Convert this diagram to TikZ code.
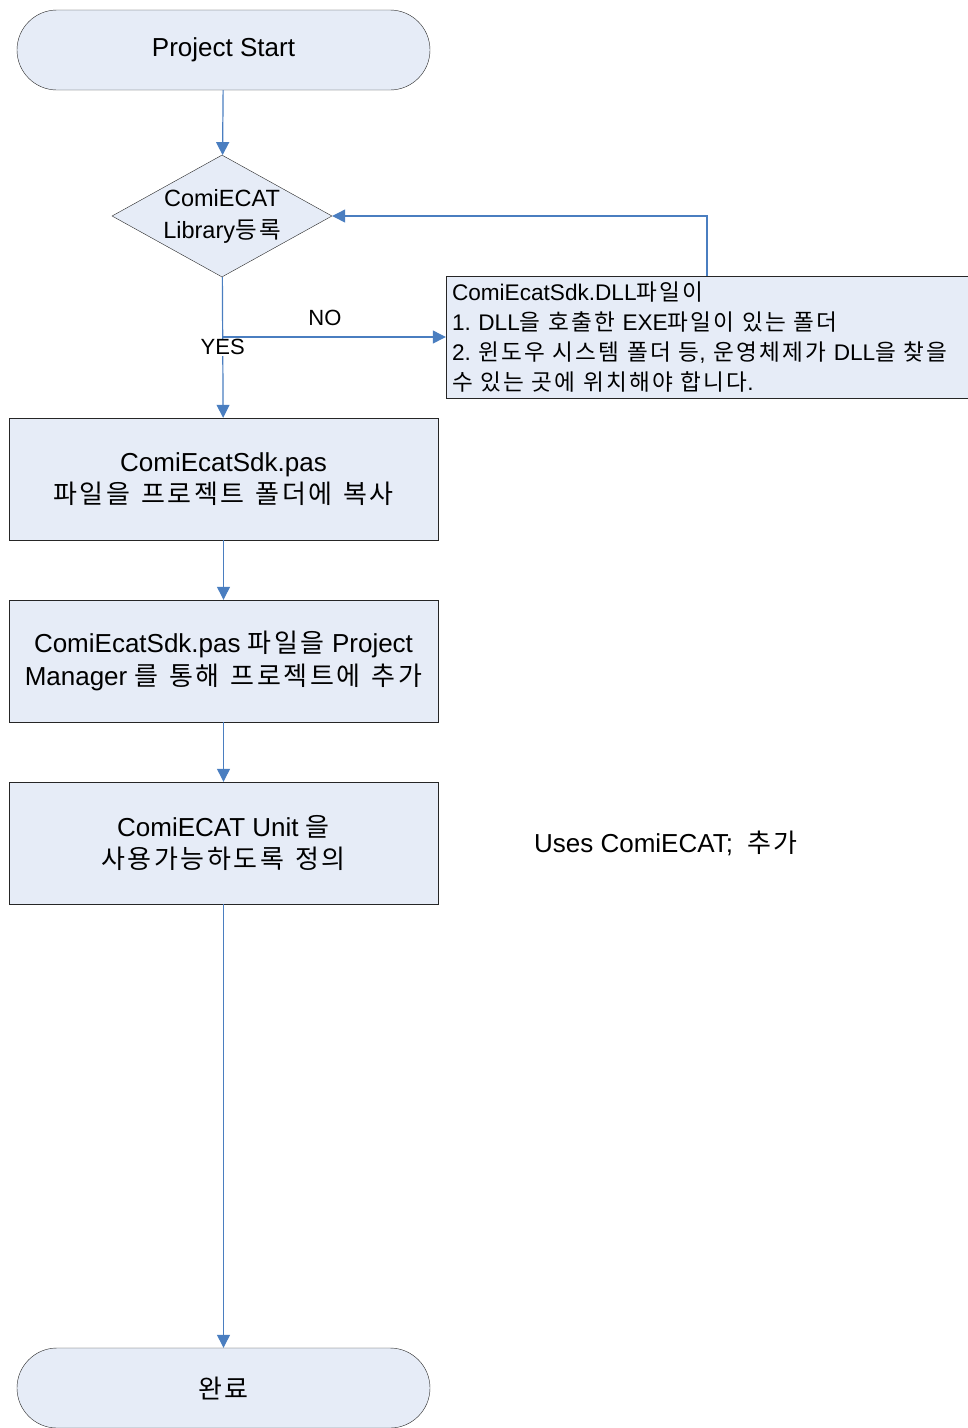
\documentclass[tikz,border=0pt]{standalone}
\usepackage{fontspec}
\setmainfont{Liberation Sans}
\newfontfamily\kr[LetterSpace=10,WordSpace=1.3]{Noto Sans CJK KR}
\usetikzlibrary{shapes.geometric,arrows.meta}
\definecolor{boxfill}{HTML}{E6ECF7}
\definecolor{flowblue}{HTML}{4A7EC0}
\frenchspacing
\begin{document}
\begin{tikzpicture}[x=1pt,y=-1pt,
  terminal/.style={draw=black!85,fill=boxfill,rounded corners=40pt,minimum width=413pt,minimum height=80pt,font=\fontsize{26}{32}\selectfont},
  decision/.style={draw=black!85,fill=boxfill,diamond,inner sep=0pt,minimum width=220pt,minimum height=122pt,font=\fontsize{23.5}{32}\selectfont},
  process/.style={draw=black!85,fill=boxfill,minimum width=429pt,minimum height=122pt,align=center,font=\fontsize{26}{32.5}\selectfont},
  note/.style={draw=black!85,fill=boxfill,inner sep=6pt,text width=510pt,minimum height=122pt,align=left,font=\fontsize{22.6}{30}\selectfont},
  flow/.style={draw=flowblue,line width=1.2pt,-{Triangle[width=13pt,length=13pt]}},
  tag/.style={font=\fontsize{22}{24}\selectfont,inner sep=1pt}]
\useasboundingbox (0,0) rectangle (968,1428);

\node[terminal] (start) at (223.5,50) {Project Start};
\node[decision] (reg) at (222,216) {\smash{\makebox[0pt]{\raisebox{-6pt}{\begin{tabular}{@{}c@{}}ComiECAT\\Library{\kr 등록}\end{tabular}}}}};
\node[note] (dll) at (707,337) {ComiEcatSdk.DLL{\kr 파일이}\\
1. DLL{\kr 을 호출한} EXE{\kr 파일이 있는 폴더}\\
2. {\kr 윈도우 시스템 폴더 등}, {\kr 운영체제가} DLL{\kr 을 찾을}\\
{\kr 수 있는 곳에 위치해야 합니다}.};

\node[process] (copy) at (223.5,479) {ComiEcatSdk.pas\\{\kr 파일을 프로젝트 폴더에 복사}};
\node[process] (add) at (223.5,661) {ComiEcatSdk.pas {\kr 파일을} Project\\Manager {\kr 를 통해 프로젝트에 추가}};
\node[process] (unit) at (223.5,843) {ComiECAT Unit {\kr 을}\\{\kr 사용가능하도록 정의}};
\node[font=\fontsize{26}{32}\selectfont] (uses) at (666,843) {Uses ComiECAT;~~{\kr 추가}};

\node[terminal] (done) at (223.5,1388) {\kr 완료};

% flow
\draw[flow] (start) -- (reg);
\draw[flow] (reg) -- node[tag,fill=white,pos=0.5] (yes) {YES} (copy);
\draw[flow] (reg.south |- dll.west) -- node[tag,above=10pt,pos=0.46] (no) {NO} (dll.west);
\draw[flow] (dll.north) |- (reg.east);
\draw[flow] (copy) -- (add);
\draw[flow] (add) -- (unit);
\draw[flow] (unit) -- (done);
\end{tikzpicture}
\end{document}
